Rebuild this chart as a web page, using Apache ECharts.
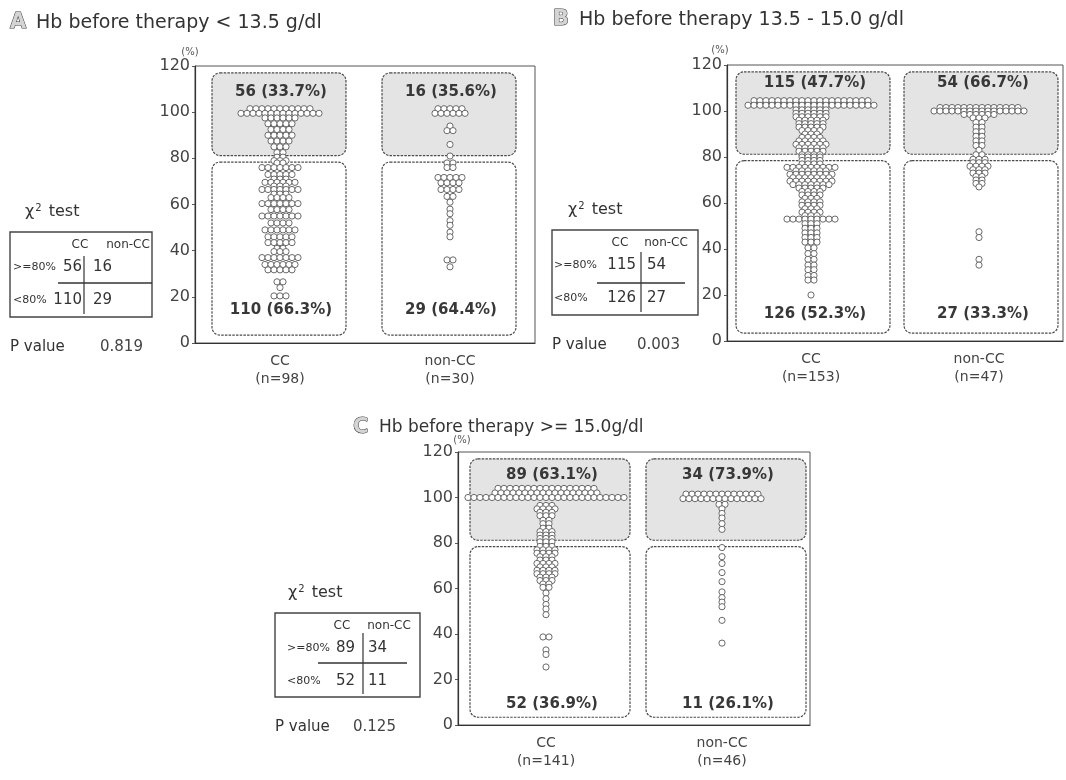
<!DOCTYPE html>
<html>
<head>
<meta charset="utf-8">
<script src="https://cdn.jsdelivr.net/npm/echarts@6/dist/echarts.min.js"></script>
<style>
  html, body { margin: 0; padding: 0; background: #fff; }
  #chart { width: 1066px; height: 780px; }
</style>
</head>
<body>
<div id="chart"></div>
<script>
// ---- data ----
const groups = ['CC', 'non-CC'];
const panelLetters = ['A', 'B', 'C'];
const panelTitles = [
  'Hb before therapy < 13.5 g/dl',
  'Hb before therapy 13.5 - 15.0 g/dl',
  'Hb before therapy >= 15.0g/dl'
];
const patientsA = [98, 30];
const patientsB = [153, 47];
const patientsC = [141, 46];
const yTickMax = 120;
const yTickStep = 20;
const threshold = 80;

// counts at or above / below the 80% threshold, per group
const aboveA = [56, 16], belowA = [110, 29];
const aboveB = [115, 54], belowB = [126, 27];
const aboveC = [89, 34], belowC = [52, 11];
const pctAboveA = ['33.7%', '35.6%'], pctBelowA = ['66.3%', '64.4%'];
const pctAboveB = ['47.7%', '66.7%'], pctBelowB = ['52.3%', '33.3%'];
const pctAboveC = ['63.1%', '73.9%'], pctBelowC = ['36.9%', '26.1%'];
const pValues = ['0.819', '0.003', '0.125'];

// individual measurements, grouped as rows: [value (%), number of dots]
const dotsA_CC = [
  [101.5, 11], [99.5, 14], [97.5, 6], [95, 5], [92.5, 4], [90, 5], [87.5, 4], [85, 3], [82.5, 2], [80.5, 2],
  [79, 3], [78, 2], [76, 7], [73, 5], [71, 3], [69.6, 6], [68, 3], [66.5, 7], [64.5, 3], [63, 4], [60.4, 7],
  [57.8, 4], [55, 7], [52, 4], [49, 6], [46, 5], [43.5, 5], [41, 2], [39.6, 3], [37, 7], [34, 6], [31.7, 5],
  [26.5, 2], [24, 1], [20.4, 3]
];
const dotsA_non = [
  [101.5, 5], [99.5, 6], [94, 1], [92, 2], [86, 1], [81, 1],
  [78, 2], [76, 2], [71.7, 5], [69.4, 4], [66.5, 4], [63.5, 2], [61, 1], [58, 1], [56, 1], [53, 1], [51, 1],
  [48, 1], [46, 1], [36, 2], [33, 1]
];
const dotsB_CC = [
  [104.5, 20], [102.5, 22], [100.5, 6], [99, 6], [97.5, 6], [96, 5], [94.5, 5], [93, 5], [91.5, 4], [90, 3],
  [88.5, 4], [87, 5], [85.5, 6], [84, 5], [82.5, 5], [81, 4], [80, 4],
  [78.5, 4], [77, 4], [75.5, 9], [74, 6], [72.5, 8], [71, 7], [69.5, 8], [68, 7], [66.5, 5], [65, 4], [63.5, 4],
  [62, 3], [60.5, 4], [59, 4], [57.5, 3], [56, 4], [54.5, 3], [53, 9], [51, 3], [49, 3], [47, 3], [45, 3],
  [43, 3], [40.5, 2], [38, 2], [35.5, 2], [33, 2], [31, 2], [28.5, 2], [26.5, 2], [20, 1]
];
const dotsB_non = [
  [101.5, 14], [100, 16], [98.5, 6], [97, 3], [95, 2], [93, 2], [91, 2], [89, 2], [87, 2], [85, 2], [83, 1], [81, 2],
  [79, 3], [77.5, 3], [76, 4], [74.5, 3], [73, 3], [71.5, 2], [70, 2], [68.5, 2], [67, 1], [47.5, 1], [45, 1],
  [35.5, 1], [33, 1]
];
const dotsC_CC = [
  [104, 17], [102, 18], [100, 27], [96.5, 3], [95, 4], [93.5, 3], [92, 3], [90, 2], [88.5, 2], [86.5, 2],
  [85, 3], [83.5, 3], [82, 3], [80.5, 3],
  [78.5, 3], [77, 4], [75.5, 4], [74, 3], [72.5, 3], [71, 4], [69.5, 3], [68, 4], [66.5, 4], [65, 3], [63.5, 3],
  [62, 2], [60.5, 2], [58, 1], [55.5, 1], [53, 1], [51, 1], [48.5, 1], [38.7, 2], [33, 1], [31, 1], [25.5, 1]
];
const dotsC_non = [
  [101.5, 13], [99.5, 14], [97, 2], [95, 1], [93, 1], [91, 1], [88.5, 1], [86, 1],
  [78, 1], [74, 1], [71, 1], [67, 1], [63, 1], [58.5, 1], [56, 1], [54, 1], [52, 1], [46, 1], [36, 1]
];

// ---- drawing setup ----
const FONT = 'DejaVu Sans';
const DOT_R = 3.1;
const DOT_STEP = 6;
const BOX_TOP = 117, BOX_SPLIT_HI = 81.2, BOX_SPLIT_LO = 78.4, BOX_BOTTOM = 3.4;

const panels = [
  { grid: { left: 195, top: 66, width: 340, height: 277 }, n: patientsA, dots: [dotsA_CC, dotsA_non],
    above: aboveA, below: belowA, pa: pctAboveA, pb: pctBelowA, margins: [17, 19], upOff: 19, lowOff: 25 },
  { grid: { left: 727, top: 65, width: 336, height: 276 }, n: patientsB, dots: [dotsB_CC, dotsB_non],
    above: aboveB, below: belowB, pa: pctAboveB, pb: pctBelowB, margins: [9, 5], upOff: 11, lowOff: 19 },
  { grid: { left: 458, top: 452, width: 352, height: 273 }, n: patientsC, dots: [dotsC_CC, dotsC_non],
    above: aboveC, below: belowC, pa: pctAboveC, pb: pctBelowC, margins: [12, 4], upOff: 16, lowOff: 13 }
];

function dotItems(rowsPerGroup) {
  const out = [];
  rowsPerGroup.forEach((rows, g) => {
    rows.forEach(([v, c]) => {
      for (let k = 0; k < c; k++) out.push([g, v, k - (c - 1) / 2]);
    });
  });
  return out;
}

function boxSeries(p, idx) {
  const data = [];
  for (let g = 0; g < groups.length; g++) {
    data.push([g, BOX_SPLIT_HI, BOX_TOP, 1, p.above[g] + ' (' + p.pa[g] + ')']);
    data.push([g, BOX_BOTTOM, BOX_SPLIT_LO, 0, p.below[g] + ' (' + p.pb[g] + ')']);
  }
  return {
    type: 'custom', xAxisIndex: idx, yAxisIndex: idx, z: 1, silent: true,
    encode: { x: 0, y: [1, 2] },
    data: data,
    renderItem(params, api) {
      const g = api.value(0);
      const lo = api.coord([g, api.value(1)]);
      const hi = api.coord([g, api.value(2)]);
      const upper = api.value(3) === 1;
      const bw = api.size([1, 0])[0];
      const x0 = lo[0] - bw / 2 + p.margins[0];
      const x1 = lo[0] + bw / 2 - p.margins[1];
      const label = data[params.dataIndex][4];
      const ty = upper ? hi[1] + p.upOff : lo[1] - p.lowOff;
      return {
        type: 'group',
        children: [
          { type: 'rect', shape: { x: x0, y: hi[1], width: x1 - x0, height: lo[1] - hi[1], r: 8 },
            style: { fill: upper ? '#e4e4e4' : '#ffffff', stroke: '#4a4a4a', lineWidth: 1.2, lineDash: [2.5, 1.2] } },
          { type: 'text', z2: 10, style: { x: (x0 + x1) / 2 + 2, y: ty, text: label, align: 'center', verticalAlign: 'middle',
            font: 'bold 15px "' + FONT + '"', fill: '#383838' } }
        ]
      };
    }
  };
}

function dotSeries(p, idx) {
  return {
    type: 'custom', xAxisIndex: idx, yAxisIndex: idx, z: 3, silent: true,
    encode: { x: 0, y: 1 },
    data: dotItems(p.dots),
    renderItem(params, api) {
      const pt = api.coord([api.value(0), api.value(1)]);
      return { type: 'circle', shape: { cx: pt[0] + api.value(2) * DOT_STEP, cy: pt[1], r: DOT_R },
        style: { fill: '#ffffff', stroke: '#6a6a6a', lineWidth: 1 } };
    }
  };
}

const grids = [], xAxes = [], yAxes = [], series = [];
panels.forEach((p, i) => {
  grids.push(Object.assign({ show: true, borderColor: '#555', borderWidth: 1, backgroundColor: 'transparent' }, p.grid));
  xAxes.push({
    type: 'category', gridIndex: i, data: groups.map((g, k) => g + '\n(n=' + p.n[k] + ')'),
    axisLine: { lineStyle: { color: '#333', width: 1.2 } }, axisTick: { show: false },
    axisLabel: { fontFamily: FONT, fontSize: 14, lineHeight: 18, color: '#444', margin: 9 }
  });
  yAxes.push({
    type: 'value', gridIndex: i, min: 0, max: yTickMax, interval: yTickStep,
    axisLine: { show: true, lineStyle: { color: '#333', width: 1.2 } },
    axisTick: { show: true, length: 3, lineStyle: { color: '#555' } },
    splitLine: { show: false },
    axisLabel: { fontFamily: FONT, fontSize: 16, color: '#444', margin: 5 }
  });
  series.push(boxSeries(p, i));
  series.push(dotSeries(p, i));
});

// chi-square summary tables
function chiTable(x, y, w, h, L, above, below, pval) {
  const t = (tx, ty, s, size, align) => ({ type: 'text', x: x + tx, y: y + ty,
    style: { text: s, font: size + 'px "' + FONT + '"', fill: '#333', align: align, verticalAlign: 'middle' } });
  return [
    { type: 'text', x: x + L.titleX, y: y - 20, style: { text: '{c|χ}{s|2}{c| test}', rich: {
        c: { fontFamily: FONT, fontSize: 16, fill: '#333', lineHeight: 18 },
        s: { fontFamily: FONT, fontSize: 10, fill: '#333', verticalAlign: 'top', padding: [0, 2, 8, 1] } },
      verticalAlign: 'middle' } },
    { type: 'rect', shape: { x: x, y: y, width: w, height: h }, style: { fill: '#fff', stroke: '#444', lineWidth: 1.4 } },
    t(L.cc, 13, 'CC', 12, 'center'),
    t(L.non, 13, 'non-CC', 12, 'center'),
    t(L.rowX, 35, '>=80%', 11, 'left'),
    t(L.rowX, 68, '<80%', 11, 'left'),
    t(L.numR, 35, String(above[0]), 15, 'right'),
    t(L.numR, 68, String(below[0]), 15, 'right'),
    t(L.numL, 35, String(above[1]), 15, 'left'),
    t(L.numL, 68, String(below[1]), 15, 'left'),
    { type: 'line', shape: { x1: x + L.vx, y1: y + L.vTop, x2: x + L.vx, y2: y + h - 3 }, style: { stroke: '#333', lineWidth: 1.2 } },
    { type: 'line', shape: { x1: x + L.h0, y1: y + L.hy, x2: x + L.h1, y2: y + L.hy }, style: { stroke: '#333', lineWidth: 1.4 } },
    { type: 'text', x: x, y: y + h + 30, style: { text: 'P value', font: '15px "' + FONT + '"', fill: '#333', verticalAlign: 'middle' } },
    { type: 'text', x: x + L.pX, y: y + h + 30, style: { text: pval, font: '15px "' + FONT + '"', fill: '#444', verticalAlign: 'middle' } }
  ];
}

function titleEls(x, y, letter, text, size) {
  return [
    { type: 'text', x: x, y: y, style: { text: letter, font: 'bold 21px "' + FONT + '"', fill: '#d4d4d4', stroke: '#3a3a3a', lineWidth: 1, verticalAlign: 'middle' } },
    { type: 'text', x: x + 26, y: y, style: { text: text, font: size + 'px "' + FONT + '"', fill: '#333', verticalAlign: 'middle' } }
  ];
}

const pctMark = (x, y) => ({ type: 'text', x: x, y: y, style: { text: '(%)', font: '10px "' + FONT + '"', fill: '#555', align: 'center', verticalAlign: 'middle' } });

const graphics = [].concat(
  titleEls(10, 23, panelLetters[0], panelTitles[0], 19),
  titleEls(553, 20, panelLetters[1], panelTitles[1], 19),
  titleEls(353, 428, panelLetters[2], panelTitles[2], 17),
  [pctMark(190, 52), pctMark(720, 50), pctMark(462, 440)],
  chiTable(10, 232, 142, 85, { titleX: 15, cc: 70, non: 118, rowX: 3, numR: 72, numL: 83, vx: 74, vTop: 24, h0: 48, h1: 142, hy: 51, pX: 90 }, aboveA, belowA, pValues[0]),
  chiTable(552, 230, 146, 85, { titleX: 16, cc: 68, non: 114, rowX: 2, numR: 84, numL: 95, vx: 89, vTop: 22, h0: 45, h1: 133, hy: 53, pX: 85 }, aboveB, belowB, pValues[1]),
  chiTable(275, 613, 145, 84, { titleX: 13, cc: 67, non: 114, rowX: 12, numR: 80, numL: 93, vx: 88, vTop: 20, h0: 43, h1: 132, hy: 50, pX: 78 }, aboveC, belowC, pValues[2])
);

const chart = echarts.init(document.getElementById('chart'), null, { renderer: 'canvas' });
chart.setOption({
  backgroundColor: '#ffffff',
  animation: false,
  grid: grids,
  xAxis: xAxes,
  yAxis: yAxes,
  series: series,
  graphic: { elements: graphics }
});
</script>
</body>
</html>
